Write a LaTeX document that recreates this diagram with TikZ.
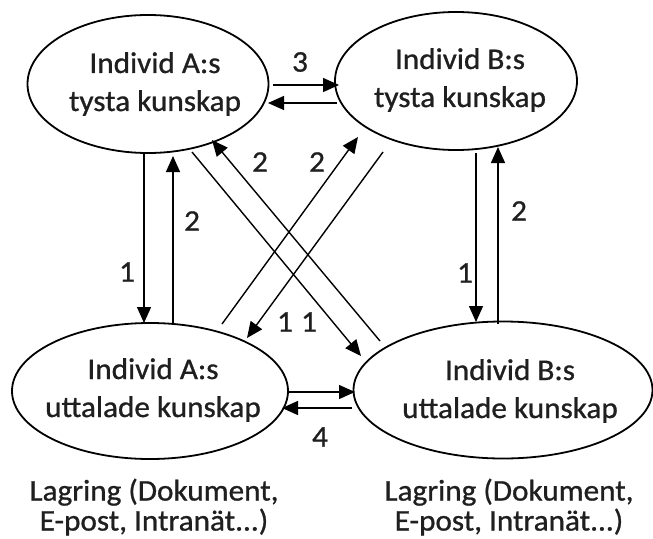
\documentclass[tikz,border=0pt]{standalone}
\usepackage{fontspec}
\setmainfont{Carlito}[FakeStretch=1.04,FakeBold=0.9]
\usetikzlibrary{shapes.geometric,arrows.meta,calc}

\begin{document}
\begin{tikzpicture}[x=1pt,y=-1pt,
  knowledge/.style={ellipse,draw=black,line width=1.8pt,inner sep=0pt},
  caption/.style={align=center,inner sep=0pt,text=black!88,
    font=\fontsize{30}{38}\selectfont},
  store/.style={align=center,inner sep=0pt,text=black!88,
    font=\fontsize{30}{30}\selectfont},
  num/.style={inner sep=0pt,text=black!88,font=\fontsize{30}{30}\selectfont},
  flow/.style={line width=1.4pt,-{Triangle[length=16pt,width=14pt]}},
]
\useasboundingbox (0,0) rectangle (653,538);

% the four knowledge ellipses
\node[knowledge,minimum width=241pt,minimum height=138pt] (at) at (148,84) {};
\node[knowledge,minimum width=242pt,minimum height=138pt] (bt) at (456,81) {};
\node[knowledge,minimum width=276pt,minimum height=136pt] (au) at (150,391) {};
\node[knowledge,minimum width=299pt,minimum height=137pt] (bu) at (503,390) {};

% their texts
\node[caption] (atx) at (155,84) {Individ A:s\\tysta kunskap};
\node[caption] (btx) at (460,80) {Individ B:s\\tysta kunskap};
\node[caption] (aux) at (153,390) {Individ A:s\\uttalade kunskap};
\node[caption] (bux) at (510,391) {Individ B:s\\uttalade kunskap};

% storage notes below the explicit knowledge
\node[store] (as) at (154,507) {Lagring (Dokument,\\E-post, Intranät...)};
\node[store] (bs) at (509,507) {Lagring (Dokument,\\E-post, Intranät...)};

% tacit to tacit (3)
\draw[flow] ($(at)+(125,1)$) -- ($(bt)+(-117,4)$);
\draw[flow] ($(bt)+(-119,22)$) -- ($(at)+(120,19)$);
% explicit to explicit (4)
\draw[flow] ($(au)+(137,1)$) -- ($(bu)+(-148,2)$);
\draw[flow] ($(bu)+(-151,18)$) -- ($(au)+(132,17)$);
% within A
\draw[flow] ($(at)+(-4,69)$) -- ($(au)+(-6,-68)$);
\draw[flow] ($(au)+(23,-67)$) -- ($(at)+(25,72)$);
% within B
\draw[flow] ($(bt)+(20,72)$) -- ($(bu)+(-27,-68)$);
\draw[flow] ($(bu)+(-5,-66)$) -- ($(bt)+(42,66)$);
% crossing flows
\draw[flow] ($(at)+(44,68)$) -- ($(bu)+(-142,-34)$);
\draw[flow] ($(bu)+(-123,-49)$) -- ($(at)+(64,56)$);
\draw[flow] ($(au)+(72,-67)$) -- ($(bt)+(-98,56)$);
\draw[flow] ($(bt)+(-73,71)$) -- ($(au)+(97,-53)$);

% step numbers
\node[num] (n3)  at (300,62)  {3};
\node[num] (n4)  at (320,437) {4};
\node[num] (na1) at (127,272) {1};
\node[num] (na2) at (192,221) {2};
\node[num] (nb1) at (465,273) {1};
\node[num] (nb2) at (519,211) {2};
\node[num] (nx2) at (260,162) {2};
\node[num] (ny2) at (317,162) {2};
\node[num] (nx1) at (285,322) {1};
\node[num] (ny1) at (309,322) {1};
\end{tikzpicture}
\end{document}
